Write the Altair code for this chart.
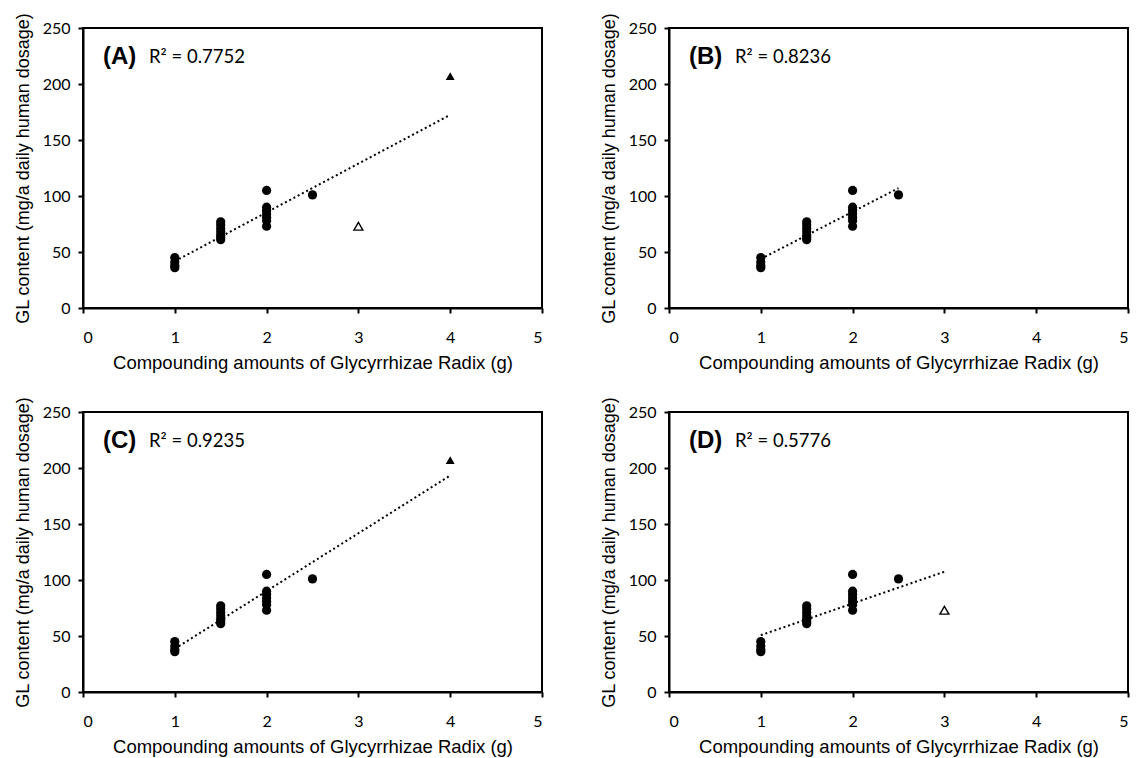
import altair as alt
import pandas as pd

# ---- data ----
circle_x = [1, 1, 1, 1,
            1.5, 1.5, 1.5, 1.5, 1.5, 1.5, 1.5,
            2, 2, 2, 2, 2, 2, 2,
            2.5]
circle_y = [45, 41, 38, 36,
            77, 74, 71, 68, 65, 63, 61,
            105, 90, 87, 84, 81, 78, 73,
            101]

filled_tri_x = [4]
filled_tri_y = [207]
open_tri_x = [3]
open_tri_y = [73]

panel_tags = ["(A)", "(B)", "(C)", "(D)"]
r2_texts = ["R\u00b2 = 0.7752", "R\u00b2 = 0.8236", "R\u00b2 = 0.9235", "R\u00b2 = 0.5776"]
use_filled = [True, False, True, False]
use_open = [True, False, False, True]

x_ticks = [0, 1, 2, 3, 4, 5]
y_ticks = [0, 50, 100, 150, 200, 250]
x_title = "Compounding amounts of Glycyrrhizae Radix (g)"
y_title = "GL content (mg/a daily human dosage)"

W, H = 459, 280

xs = alt.Scale(domain=[0, 5], nice=False)
ys = alt.Scale(domain=[0, 250], nice=False)


def panel(i):
    circ = pd.DataFrame({"x": circle_x, "y": circle_y, "k": "c"})
    parts = [circ]
    if use_filled[i]:
        parts.append(pd.DataFrame({"x": filled_tri_x, "y": filled_tri_y, "k": "f"}))
    if use_open[i]:
        parts.append(pd.DataFrame({"x": open_tri_x, "y": open_tri_y, "k": "o"}))
    allpts = pd.concat(parts, ignore_index=True)

    xenc = alt.X("x:Q", scale=xs, title=x_title,
                 axis=alt.Axis(values=x_ticks, format="d"))
    yenc = alt.Y("y:Q", scale=ys, title=y_title,
                 axis=alt.Axis(values=y_ticks, format="d"))

    line = alt.Chart(allpts).transform_regression("x", "y").mark_line(
        color="black", strokeDash=[2, 2.8], strokeWidth=2
    ).encode(x=xenc, y=yenc)

    circles = alt.Chart(circ).mark_point(
        shape="circle", filled=True, color="black", size=85, opacity=1
    ).encode(x=xenc, y=yenc)

    layers = [line, circles]
    if use_filled[i]:
        ft = pd.DataFrame({"x": filled_tri_x, "y": filled_tri_y})
        layers.append(alt.Chart(ft).mark_point(
            shape="triangle-up", filled=True, color="black", size=80, opacity=1
        ).encode(x=xenc, y=yenc))
    if use_open[i]:
        ot = pd.DataFrame({"x": open_tri_x, "y": open_tri_y})
        layers.append(alt.Chart(ot).mark_point(
            shape="triangle-up", filled=True, fill="white", stroke="black",
            strokeWidth=1.4, size=80, opacity=1
        ).encode(x=xenc, y=yenc))

    tag = alt.Chart(pd.DataFrame({"t": [panel_tags[i]]})).mark_text(
        align="left", baseline="alphabetic", font="Liberation Sans",
        fontWeight="bold", fontSize=24, color="black"
    ).encode(x=alt.value(20), y=alt.value(36), text="t:N")
    r2 = alt.Chart(pd.DataFrame({"t": [r2_texts[i]]})).mark_text(
        align="left", baseline="alphabetic", font="Lato",
        fontSize=18.5, color="black"
    ).encode(x=alt.value(66), y=alt.value(35), text="t:N")
    layers += [tag, r2]

    return alt.layer(*layers).properties(width=W, height=H)


row1 = alt.hconcat(panel(0), panel(1), spacing=55)
row2 = alt.hconcat(panel(2), panel(3), spacing=55)
chart = alt.vconcat(row1, row2, spacing=22).properties(
    padding={"left": 5, "top": 3, "right": 0, "bottom": 0},
    background="white",
).configure_view(
    stroke="black", strokeWidth=2
).configure_axis(
    grid=False,
    domainColor="black", domainWidth=2,
    tickColor="black", tickWidth=2, tickSize=5,
    labelFont="Lato", labelFontSize=16, labelColor="black",
    titleFont="Liberation Sans", titleFontWeight="normal",
    titleColor="black",
).configure_axisX(
    labelPadding=16, titleFontSize=18.5, titlePadding=8
).configure_axisY(
    labelPadding=8, titleFontSize=18, titlePadding=10
)

chart.save("out.html", embed_options={"renderer": "svg", "actions": False})
